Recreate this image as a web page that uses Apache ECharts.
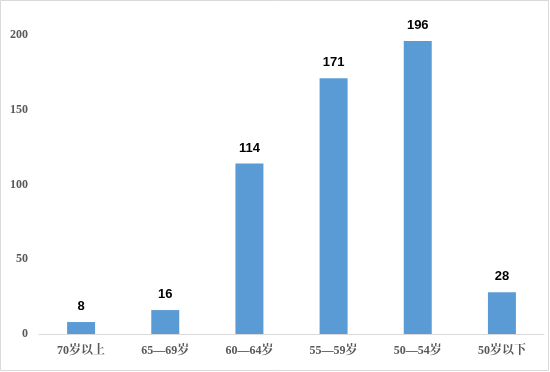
<!DOCTYPE html>
<html>
<head>
<meta charset="utf-8">
<script src="https://cdn.jsdelivr.net/npm/echarts@6/dist/echarts.min.js"></script>
<style>
html,body{margin:0;padding:0;background:#fff;}
#chart{width:550px;height:372px;}
</style>
</head>
<body>
<div id="chart"></div>
<script>
const categories = ['70岁以上', '65—69岁', '60—64岁', '55—59岁', '50—54岁', '50岁以下'];
const values = [8, 16, 114, 171, 196, 28];
const yTicks = [0, 50, 100, 150, 200];

const chart = echarts.init(document.getElementById('chart'));
chart.setOption({
  animation: false,
  backgroundColor: '#ffffff',
  graphic: [{
    type: 'rect',
    shape: {x: 0.5, y: 0.5, width: 548, height: 370},
    style: {fill: 'none', stroke: '#d9d9d9', lineWidth: 1},
    silent: true
  }],
  grid: {left: 39, right: 6, top: 35, bottom: 38, containLabel: false},
  xAxis: {
    type: 'category',
    data: categories,
    axisLine: {lineStyle: {color: '#d9d9d9', width: 1}},
    axisTick: {show: false},
    axisLabel: {
      color: '#595959',
      fontSize: 12,
      fontWeight: 'bold',
      fontFamily: '"Liberation Serif", "Noto Serif CJK SC", "Noto Sans CJK SC", serif',
      margin: 11
    }
  },
  yAxis: {
    type: 'value',
    min: yTicks[0],
    max: yTicks[yTicks.length - 1],
    interval: 50,
    axisLine: {show: false},
    axisTick: {show: false},
    splitLine: {show: false},
    axisLabel: {
      color: '#595959',
      fontSize: 12,
      fontWeight: 'bold',
      fontFamily: '"Liberation Serif", serif',
      margin: 11
    }
  },
  series: [{
    type: 'bar',
    data: values,
    barWidth: 28,
    itemStyle: {color: '#5b9bd5'},
    label: {
      show: true,
      position: 'top',
      distance: 9,
      color: '#000000',
      fontSize: 13,
      fontWeight: 'bold',
      fontFamily: '"Liberation Sans", Arial, sans-serif'
    }
  }]
});
</script>
</body>
</html>
